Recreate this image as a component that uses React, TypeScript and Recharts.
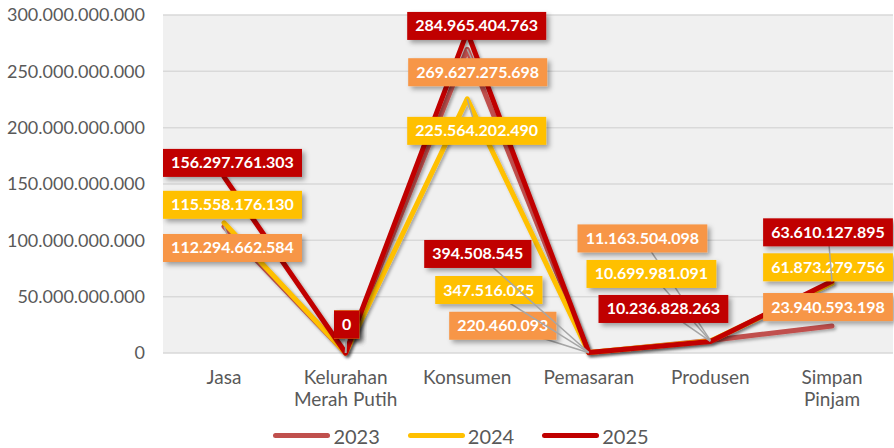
import { LineChart, Line, XAxis, YAxis, CartesianGrid, Legend, LabelList } from 'recharts';

const categories = ['Jasa', 'Kelurahan Merah Putih', 'Konsumen', 'Pemasaran', 'Produsen', 'Simpan Pinjam'];
const values2023 = [112294662584, 0, 269627275698, 220460093, 11163504098, 23940593198];
const values2024 = [115558176130, 0, 225564202490, 347516025, 10699981091, 61873279756];
const values2025 = [156297761303, 0, 284965404763, 394508545, 10236828263, 63610127895];
const yTicks = [0, 50000000000, 100000000000, 150000000000, 200000000000, 250000000000, 300000000000];

const series = [
  { key: 'y2023', name: '2023', line: '#C0504D', box: '#F79646' },
  { key: 'y2024', name: '2024', line: '#FFC000', box: '#FFC000' },
  { key: 'y2025', name: '2025', line: '#C00000', box: '#C00000' },
];

// label box centre relative to the point (Excel labels were dragged by hand)
const labelOffsets: Record<string, number[][]> = {
  y2023: [[8.5, 21.5], [1, -28.5], [10.5, 23], [-86, -27], [-68, -102], [-4, -19]],
  y2024: [[8.5, -18], [1, -28.5], [9.5, 32], [-100, -62.6], [-59, -67], [-4, -16]],
  y2025: [[8.5, -14], [1, -28.5], [9.5, -6], [-111, -98.6], [-47, -32.5], [-4, -49]],
};

const data = categories.map((name, i) => ({
  name,
  y2023: values2023[i],
  y2024: values2024[i],
  y2025: values2025[i],
}));

const fmt = (v: number) => String(v).replace(/\B(?=(\d{3})+(?!\d))/g, '.');

const makeLabel = (key: string, fill: string) => (props: any) => {
  const x = props.x ?? props.viewBox?.x;
  const y = props.y ?? props.viewBox?.y;
  const { value, index } = props;
  if (x == null || y == null || value == null) return null;
  const [dx, dy] = labelOffsets[key][index];
  const text = fmt(value);
  const digits = text.replace(/\./g, '').length;
  const dots = text.length - digits;
  const w = digits * 9.2 + dots * 4.2 + 16;
  const h = 28;
  const cx = x + dx;
  const cy = y + dy;
  const leader = Math.max(Math.abs(dx) - w / 2, Math.abs(dy) - h / 2) > 6;
  return (
    <g>
      {leader && <line x1={cx} y1={cy} x2={x} y2={y} stroke="#A6A6A6" strokeWidth={1.5} />}
      <rect x={cx - w / 2} y={cy - h / 2} width={w} height={h} fill={fill} filter="url(#boxShadow)" />
      <text x={cx} y={cy} dy={5.5} textAnchor="middle" fill="#fff" fontFamily="Lato" fontWeight={700} fontSize={16}>
        {text}
      </text>
    </g>
  );
};

const CategoryTick = ({ x, y, payload }: any) => {
  const words = String(payload.value).split(' ');
  const lines: string[] = [];
  words.forEach(w => {
    const last = lines[lines.length - 1];
    if (last && (last + ' ' + w).length <= 11) lines[lines.length - 1] = last + ' ' + w;
    else lines.push(w);
  });
  return (
    <text x={x} y={y} textAnchor="middle" fill="#595959" fontFamily="Lato" fontSize={19}>
      {lines.map((l, i) => (
        <tspan key={i} x={x} dy={i === 0 ? 23 : 22}>{l}</tspan>
      ))}
    </text>
  );
};

const LegendContent = () => (
  <div style={{ display: 'flex', justifyContent: 'center', alignItems: 'center', height: 35, paddingLeft: 29, paddingTop: 10, boxSizing: 'border-box', fontFamily: 'Lato', fontSize: 20, color: '#595959' }}>
    {series.map((s, i) => (
      <div key={s.key} style={{ display: 'flex', alignItems: 'center', marginLeft: i === 0 ? 0 : 28 }}>
        <div style={{ width: 57, height: 5, borderRadius: 3, background: s.line, marginRight: 3 }} />
        <span>{s.name}</span>
      </div>
    ))}
  </div>
);

export default function App() {
  return (
    <div style={{ position: 'absolute', left: 0, top: 0, width: 894, height: 448, background: '#fff' }}>
      <svg width={0} height={0} style={{ position: 'absolute' }}>
        <defs>
          <filter id="boxShadow" x="-20%" y="-30%" width="150%" height="180%">
            <feDropShadow dx={3} dy={3} stdDeviation={2.5} floodColor="#000" floodOpacity={0.35} />
          </filter>
          <filter id="lineShadow" x="-10%" y="-10%" width="130%" height="130%">
            <feDropShadow dx={2} dy={2} stdDeviation={1.5} floodColor="#000" floodOpacity={0.3} />
          </filter>
        </defs>
      </svg>
      <LineChart width={894} height={448} data={data} margin={{ top: 15, right: 1, left: 0, bottom: 0 }}>
        <CartesianGrid vertical={false} stroke="#D9D9D9" strokeWidth={1.5} fill="#F0F0F0" />
        <XAxis
          dataKey="name"
          axisLine={false}
          tickLine={false}
          height={60}
          interval={0}
          padding={{ left: 61, right: 61 }}
          tick={<CategoryTick />}
        />
        <YAxis
          width={163}
          domain={[0, 300000000000]}
          ticks={yTicks}
          axisLine={false}
          tickLine={false}
          tickMargin={12}
          tickFormatter={fmt}
          tick={{ fill: '#595959', fontFamily: 'Lato', fontSize: 18 }}
        />
        <Legend verticalAlign="bottom" height={35} content={<LegendContent />} />
        {series.map(s => (
          <Line
            key={s.key}
            dataKey={s.key}
            name={s.name}
            stroke={s.line}
            strokeWidth={5}
            strokeLinecap="round"
            strokeLinejoin="round"
            dot={false}
            activeDot={false}
            filter="url(#lineShadow)"
            isAnimationActive={false}
          />
        ))}
        {series.map(s => (
          <Line
            key={s.key + '-labels'}
            dataKey={s.key}
            stroke="none"
            dot={false}
            activeDot={false}
            legendType="none"
            isAnimationActive={false}
          >
            <LabelList dataKey={s.key} content={makeLabel(s.key, s.box)} />
          </Line>
        ))}
      </LineChart>
    </div>
  );
}
